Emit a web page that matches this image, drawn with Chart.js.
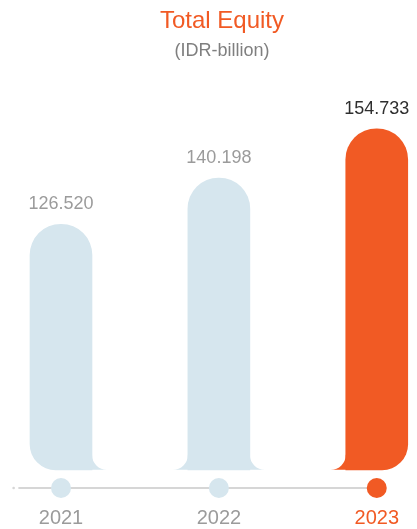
<!DOCTYPE html>
<html>
<head>
<meta charset="utf-8">
<script src="https://cdn.jsdelivr.net/npm/chart.js@4/dist/chart.umd.min.js"></script>
<style>
  html, body { margin: 0; padding: 0; background: #ffffff; }
  #wrap { width: 417px; height: 529px; position: relative; }
</style>
</head>
<body>
<div id="wrap"><canvas id="equityChart"></canvas></div>
<script>
// Total equity per year, IDR billion
const years = ['2021', '2022', '2023'];
const equity = [126520, 140198, 154733];
const chartTitle = 'Total Equity';
const chartUnit = '(IDR-billion)';

// value-axis window and where the bars start
const AXIS_MIN = 48700;
const AXIS_MAX = 170000;
const BAR_BASE = 54050;

const ORANGE = '#f15a24';
const PALE = '#d6e6ee';
const GREY_TEXT = '#9b9b9b';
const LINE_GREY = '#d6d6d6';
const FONT = '"Liberation Sans", Arial, Helvetica, sans-serif';

const last = years.length - 1;
const isCurrent = i => i === last;

// 126520 -> "126.520"
function fmt(v) {
  return String(v).replace(/\B(?=(\d{3})+(?!\d))/g, '.');
}

// timeline under the bars, concave feet on the bars and the value labels
const decorations = {
  id: 'decorations',
  beforeDatasetsDraw(chart) {
    const { ctx, chartArea } = chart;
    const xs = chart.scales.x;
    const y = chartArea.bottom;
    const x0 = xs.getPixelForValue(0);
    const x1 = xs.getPixelForValue(last);
    const step = xs.getPixelForValue(1) - x0;
    ctx.save();
    ctx.strokeStyle = LINE_GREY;
    ctx.lineWidth = 2;
    ctx.beginPath();
    ctx.moveTo(x0 - step * 0.27, y);
    ctx.lineTo(x1, y);
    ctx.stroke();
    ctx.fillStyle = LINE_GREY;
    ctx.beginPath();
    ctx.arc(x0 - step * 0.3, y, 1.3, 0, Math.PI * 2);
    ctx.fill();
    ctx.restore();
  },
  afterDatasetsDraw(chart) {
    const { ctx } = chart;
    const meta = chart.getDatasetMeta(0);
    const r = 15;
    ctx.save();
    meta.data.forEach((bar, i) => {
      const half = bar.width / 2;
      const L = bar.x - half;
      const R = bar.x + half;
      const B = bar.base;
      ctx.fillStyle = isCurrent(i) ? ORANGE : PALE;
      if (i > 0) {
        ctx.beginPath();
        ctx.moveTo(L + 0.5, B - r);
        ctx.arc(L - r, B - r, r, 0, Math.PI / 2, false);
        ctx.lineTo(L + 0.5, B);
        ctx.closePath();
        ctx.fill();
      }
      if (i < last) {
        ctx.beginPath();
        ctx.moveTo(R - 0.5, B - r);
        ctx.arc(R + r, B - r, r, Math.PI, Math.PI / 2, true);
        ctx.lineTo(R - 0.5, B);
        ctx.closePath();
        ctx.fill();
      }
      // value label above the bar
      ctx.font = '18px ' + FONT;
      ctx.textAlign = 'center';
      ctx.textBaseline = 'alphabetic';
      ctx.fillStyle = isCurrent(i) ? '#2f2f2f' : GREY_TEXT;
      ctx.fillText(fmt(equity[i]), bar.x, bar.y - 15);
    });
    ctx.restore();
  }
};

new Chart(document.getElementById('equityChart'), {
  data: {
    labels: years,
    datasets: [
      {
        type: 'bar',
        data: equity,
        base: BAR_BASE,
        clip: false,
        barThickness: 62,
        borderWidth: 0,
        borderSkipped: false,
        backgroundColor: years.map((_, i) => isCurrent(i) ? ORANGE : PALE),
        borderRadius: ctx => ({
          topLeft: 31,
          topRight: 31,
          bottomLeft: ctx.dataIndex === 0 ? 26 : 0,
          bottomRight: ctx.dataIndex === last ? 26 : 0
        })
      },
      {
        // year markers sitting on the timeline
        type: 'line',
        data: years.map(() => AXIS_MIN),
        showLine: false,
        clip: false,
        pointRadius: 10,
        pointHoverRadius: 10,
        pointBorderWidth: 0,
        pointBackgroundColor: years.map((_, i) => isCurrent(i) ? ORANGE : PALE)
      }
    ]
  },
  options: {
    responsive: true,
    maintainAspectRatio: false,
    animation: false,
    events: [],
    layout: { padding: { left: 61, right: 34, top: 0, bottom: 0 } },
    plugins: {
      legend: { display: false },
      tooltip: { enabled: false },
      title: {
        display: true,
        text: chartTitle,
        color: ORANGE,
        font: { family: FONT, size: 24, weight: 'normal' },
        padding: { top: 6.5, bottom: 0 }
      },
      subtitle: {
        display: true,
        text: chartUnit,
        color: '#7f7f7f',
        font: { family: FONT, size: 18, weight: 'normal' },
        padding: { top: 5, bottom: 15.1 }
      }
    },
    scales: {
      x: {
        type: 'category',
        offset: false,
        grid: { display: false, drawTicks: false },
        border: { display: false },
        ticks: {
          padding: 18,
          font: { family: FONT, size: 20 },
          color: ctx => isCurrent(ctx.index) ? ORANGE : GREY_TEXT
        },
        afterFit(scale) { scale.height = 41; }
      },
      y: {
        display: false,
        min: AXIS_MIN,
        max: AXIS_MAX
      }
    }
  },
  plugins: [decorations]
});
</script>
</body>
</html>
